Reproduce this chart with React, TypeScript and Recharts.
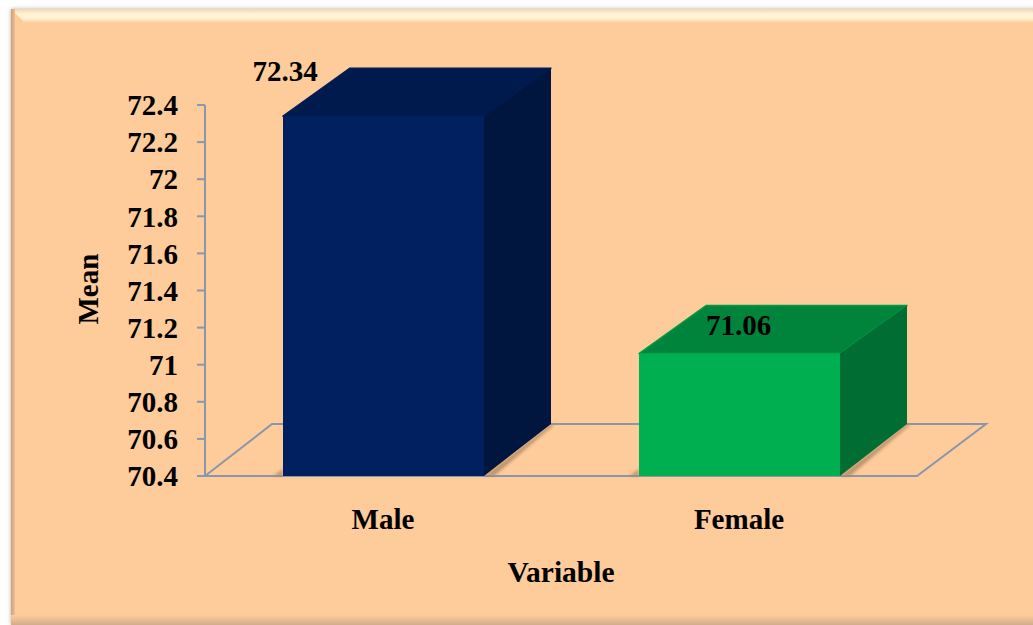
import React from 'react'
import { BarChart, Bar, XAxis, YAxis, ReferenceArea, LabelList } from 'recharts';

const categories = ['Male', 'Female'];
const means = [72.34, 71.06];
const yTicks = [70.4, 70.6, 70.8, 71, 71.2, 71.4, 71.6, 71.8, 72, 72.2, 72.4];

const frontColors = ['#002060', '#00B050'];
const topColors = ['#001A4E', '#00843C'];
const sideColors = ['#00163F', '#006E32'];
const edgeColors = ['#001D56', '#009A46'];

const chartData = categories.map((name, i) => ({ name, mean: means[i] }));

const DEPTH_X = 67;
const DEPTH_BASE = 52;
const DEPTH_TOP = 48;
const AXIS_COLOR = '#8A97A8';
const FONT = '"Liberation Serif", serif';

// extruded box: front face from the scale, top and side pushed back by the depth
const BoxBar = (props: any) => {
  const { x, y, width, height, index } = props;
  const r = x + width;
  const b = y + height;
  return (
    <g>
      <polygon
        points={`${x - 10},${b} ${x},${b - 7} ${x},${b}`}
        fill="#A8835F"
        opacity={0.7}
        style={{ filter: 'blur(1.5px)' }}
      />
      <polygon
        points={`${r},${b} ${r + DEPTH_X},${b - DEPTH_BASE} ${r + DEPTH_X + 3},${b - DEPTH_BASE + 1} ${r + 10},${b}`}
        fill="#A8835F"
        opacity={0.75}
        style={{ filter: 'blur(1.5px)' }}
      />
      <polygon
        points={`${x},${y} ${x + DEPTH_X},${y - DEPTH_TOP} ${r + DEPTH_X},${y - DEPTH_TOP} ${r},${y}`}
        fill={topColors[index]}
        stroke={edgeColors[index]}
        strokeWidth={1.5}
        strokeLinejoin="round"
      />
      <polygon
        points={`${r},${y} ${r + DEPTH_X},${y - DEPTH_TOP} ${r + DEPTH_X},${b - DEPTH_BASE} ${r},${b}`}
        fill={sideColors[index]}
      />
      <rect x={x} y={y} width={width} height={height} fill={frontColors[index]} />
    </g>
  );
};

// floor of the 3D plot
const Floor = (props: any) => {
  const { x, y, width, height } = props;
  const b = y + height;
  return (
    <polyline
      points={`${x},${b} ${x + DEPTH_X},${b - DEPTH_BASE} ${x + width + DEPTH_X + 2},${b - DEPTH_BASE} ${x + width},${b} ${x},${b}`}
      fill="none"
      stroke={AXIS_COLOR}
      strokeWidth={2}
    />
  );
};

const ValueLabel = (props: any) => {
  const { x, y, width, index, value } = props;
  const cx = index === 0 ? x + 2 : x + width / 2 - 1;
  const cy = index === 0 ? y - 35 : y - 19;
  return (
    <text x={cx} y={cy} textAnchor="middle" fontFamily={FONT} fontSize={29} fontWeight="bold" fill="#000">
      {value}
    </text>
  );
};

export default function App() {
  return (
    <div style={{ position: 'absolute', left: 0, top: 0, width: 1033, height: 625, background: '#fff', overflow: 'hidden' }}>
      {/* beveled card behind the chart */}
      <div style={{ position: 'absolute', left: 11, top: 9, width: 1030, height: 616, background: '#FECB9A', boxShadow: '0 0 4px rgba(120,90,60,0.5)' }} />
      <div style={{ position: 'absolute', left: 11, top: 9, width: 1030, height: 14, background: 'linear-gradient(#EFD5B8, #FFF3D6 35%, #FFF3D6 65%, #FECB9A)', clipPath: 'polygon(0 0, 100% 0, 100% 100%, 14px 100%)' }} />
      <div style={{ position: 'absolute', left: 11, top: 9, width: 4, height: 616, background: 'linear-gradient(90deg, #C9A07C, #F3BE8E)' }} />
      <div style={{ position: 'absolute', left: 11, top: 615, width: 1030, height: 10, background: 'linear-gradient(#FECB9A, #D2AC8A)' }} />
      <div style={{ position: 'absolute', left: 0, top: 0 }}>
        <BarChart
          width={1033}
          height={625}
          data={chartData}
          margin={{ top: 105, right: 116, bottom: 49, left: 125 }}
          barSize={201}
        >
          <ReferenceArea y1={70.4} y2={72.4} shape={<Floor />} ifOverflow="visible" />
          <XAxis
            dataKey="name"
            axisLine={false}
            tickLine={false}
            height={100}
            tickMargin={26}
            tick={{ fontFamily: FONT, fontSize: 29, fontWeight: 'bold', fill: '#000' }}
            label={{ value: 'Variable', position: 'insideBottom', offset: -6, fontFamily: FONT, fontSize: 29.5, fontWeight: 'bold', fill: '#000' }}
          />
          <YAxis
            width={80}
            domain={[70.4, 72.4]}
            ticks={yTicks}
            interval={0}
            stroke={AXIS_COLOR}
            strokeWidth={2}
            tickSize={8}
            tickMargin={19}
            tick={{ fontFamily: FONT, fontSize: 29, fontWeight: 'bold', fill: '#000' }}
            label={{ value: 'Mean', angle: -90, position: 'insideLeft', offset: 0, dx: -37, dy: 34, fontFamily: FONT, fontSize: 29, fontWeight: 'bold', fill: '#000' }}
          />
          <Bar dataKey="mean" shape={<BoxBar />} isAnimationActive={false}>
            <LabelList dataKey="mean" content={<ValueLabel />} />
          </Bar>
        </BarChart>
      </div>
    </div>
  );
}
